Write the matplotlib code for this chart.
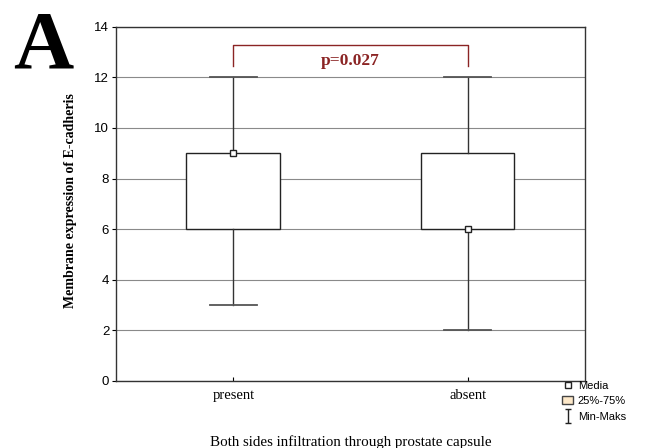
import matplotlib
matplotlib.use('Agg')
import matplotlib.pyplot as plt
from matplotlib.patches import Patch
from matplotlib.lines import Line2D
from matplotlib.path import Path

# data
groups = ['present', 'absent']
medians = [9, 6]
q1 = [6, 6]
q3 = [9, 9]
mins = [3, 2]
maxs = [12, 12]
p_label = 'p=0.027'

SERIF = 'Liberation Serif'
SANS = 'Liberation Sans'
RED = '#8b2424'

fig = plt.figure(figsize=(6.6, 4.48), dpi=100)
fig.patch.set_facecolor('white')
ax = fig.add_axes([0.176, 0.150, 0.710, 0.790])

positions = list(range(len(groups)))
stats = []
for i, g in enumerate(groups):
    stats.append(dict(label=g, med=medians[i], q1=q1[i], q3=q3[i],
                      whislo=mins[i], whishi=maxs[i], fliers=[]))

ax.bxp(stats, positions=positions, widths=0.4, capwidths=0.2,
       patch_artist=True, showfliers=False,
       boxprops=dict(facecolor='white', edgecolor='#222222', linewidth=1.0),
       whiskerprops=dict(color='#333333', linewidth=1.0),
       capprops=dict(color='#555555', linewidth=1.3),
       medianprops=dict(linestyle='none'),
       zorder=3)

# median squares
ax.plot(positions, medians, linestyle='none', marker='s', ms=4.5,
        mfc='white', mec='#222222', mew=1.0, zorder=5)

ax.set_xlim(-0.5, 1.5)
ax.set_ylim(0, 14)
ax.set_yticks(range(0, 15, 2))
ax.yaxis.grid(True, color='#8a8a8a', linewidth=0.8, zorder=0)
ax.set_axisbelow(True)

for s in ax.spines.values():
    s.set_color('#333333')
    s.set_linewidth(1.0)

ax.tick_params(axis='y', direction='out', length=3, labelsize=9.5, pad=2)
ax.tick_params(axis='x', direction='in', length=3, pad=6)
for lab in ax.get_yticklabels():
    lab.set_fontfamily(SANS)
ax.set_xticks(positions)
ax.set_xticklabels(groups, fontfamily=SERIF, fontsize=10.5)

ax.set_ylabel('Membrane expression of E-cadheris', fontfamily=SERIF,
              fontsize=10, fontweight='bold')
ax.yaxis.set_label_coords(-0.083, 0.51)
ax.set_xlabel('Both sides infiltration through prostate capsule',
              fontfamily=SERIF, fontsize=10.8)
ax.xaxis.set_label_coords(0.5, -0.155)

# significance bracket
ax.plot([positions[0], positions[0], positions[1], positions[1]],
        [12.45, 13.3, 13.3, 12.45], color=RED, linewidth=1.0, zorder=4)
ax.text(0.5, 12.66, p_label, ha='center', va='center', color=RED,
        fontfamily=SERIF, fontsize=12.5, fontweight='bold')

# panel letter
fig.text(0.02, 1 - 68 / 448, 'A', ha='left', va='baseline', fontfamily=SERIF,
         fontsize=60, fontweight='bold')

# legend
minmax = Path([(-0.5, 1), (0.5, 1), (0, 1), (0, -1), (-0.5, -1), (0.5, -1)],
              [Path.MOVETO, Path.LINETO, Path.MOVETO, Path.LINETO,
               Path.MOVETO, Path.LINETO])
handles = [
    Line2D([], [], linestyle='none', marker='s', ms=4, mfc='white',
           mec='#222222'),
    Patch(facecolor='#fde8c8', edgecolor='#444444'),
    Line2D([], [], linestyle='none', marker=minmax, ms=10, mec='#222222',
           mew=1.0),
]
fig.legend(handles, ['Media', '25%-75%', 'Min-Maks'], loc='upper left',
           bbox_to_anchor=(0.84, 0.168), frameon=False,
           prop=dict(family=SANS, size=8), handlelength=1.0,
           handletextpad=0.4, labelspacing=0.5, borderpad=0.2)

fig.savefig('out.png', dpi=100, facecolor='white')
